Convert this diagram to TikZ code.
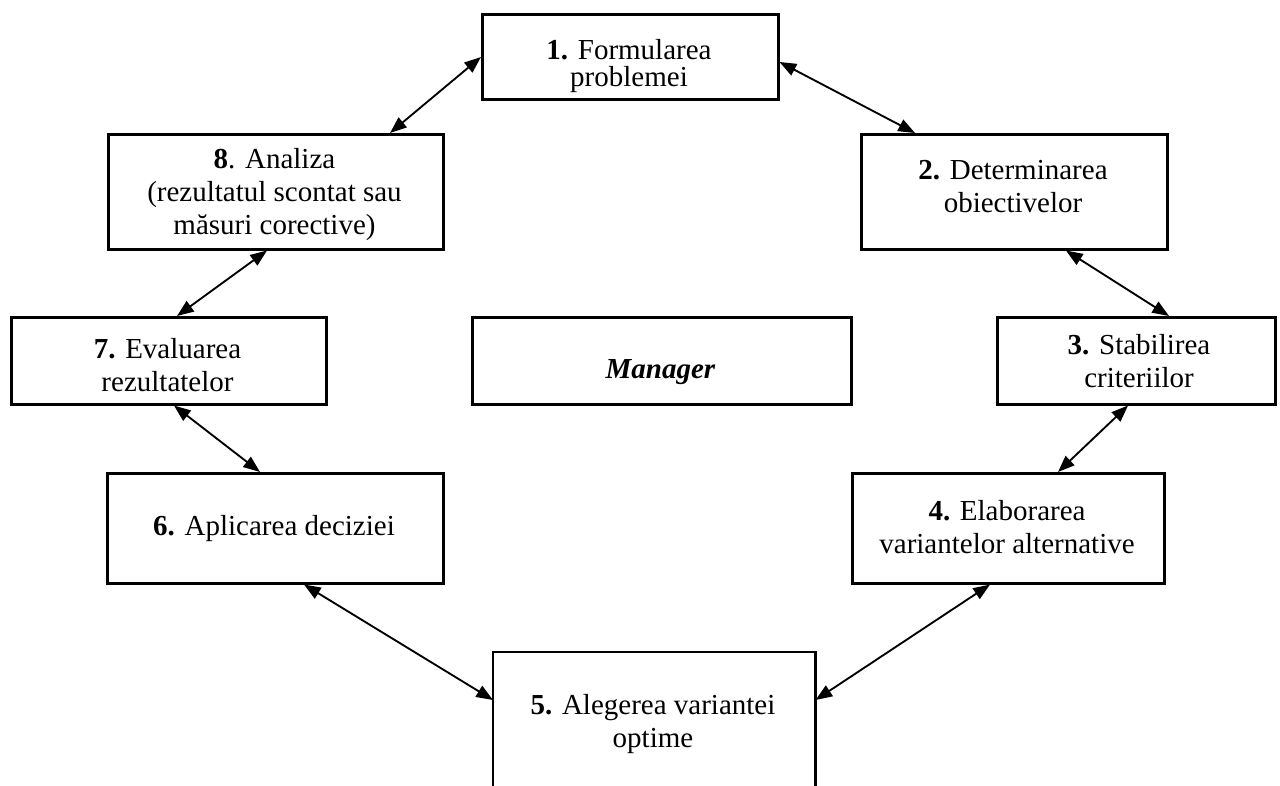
\documentclass[tikz,border=0pt]{standalone}
\usepackage{fontspec}
\setmainfont{Liberation Serif}
\usetikzlibrary{arrows.meta,calc}
\begin{document}
\begin{tikzpicture}[x=0.75pt,y=-0.75pt,
  box/.style={draw,line width=1.9pt,inner sep=0pt,anchor=north west},
  txt/.style={align=center,anchor=base,inner sep=0pt,
    font=\fontsize{21.75pt}{24.75pt}\selectfont},
  link/.style={line width=1.4pt,
    {Triangle[length=12.5pt,width=9.5pt]}-{Triangle[length=12.5pt,width=9.5pt]}}]
\useasboundingbox (0,0) rectangle (1280,785);

% boxes (pixel grid, y downwards)
\node[box,minimum width=296*0.75pt,minimum height=85*0.75pt] (b1) at (481,13) {};
\node[box,minimum width=306*0.75pt,minimum height=115*0.75pt] (b2) at (860,133) {};
\node[box,minimum width=278*0.75pt,minimum height=87*0.75pt] (b3) at (996,316) {};
\node[box,minimum width=312*0.75pt,minimum height=110*0.75pt] (b4) at (851,472) {};
\node[box,draw=none,minimum width=320*0.75pt,minimum height=140*0.75pt] (b5) at (493,652) {};
\draw[line width=1.9pt] (b5.south west) -- (b5.north west) -- (b5.north east) -- (b5.south east);
\node[box,minimum width=336*0.75pt,minimum height=110*0.75pt] (b6) at (106,472) {};
\node[box,minimum width=315*0.75pt,minimum height=87*0.75pt] (b7) at (10,316) {};
\node[box,minimum width=335*0.75pt,minimum height=115*0.75pt] (b8) at (107,133) {};
\node[box,minimum width=379*0.75pt,minimum height=87*0.75pt] (mg) at (471,316) {};

% texts (anchored at the baseline of their last line)
\node[txt,font=\fontsize{21.75pt}{20.25pt}\selectfont] (t1) at (629,86) {\textbf{1.} Formularea\\problemei};
\node[txt] (t2) at (1013,212) {\textbf{2.} Determinarea\\obiectivelor};
\node[txt] (t3) at (1139,387) {\textbf{3.} Stabilirea\\criteriilor};
\node[txt] (t4) at (1007,553) {\textbf{4.} Elaborarea\\variantelor alternative};
\node[txt] (t5) at (653,747) {\textbf{5.} Alegerea variantei\\optime};
\node[txt] (t6) at (274,535) {\textbf{6.} Aplicarea deciziei};
\node[txt] (t7) at (167.5,391) {\textbf{7.} Evaluarea\\rezultatelor};
\node[txt] (t8) at (274.5,234) {\textbf{8}. Analiza\\(rezultatul scontat sau\\măsuri corective)};
\node[txt] (tm) at (660.5,378) {\textbf{\textit{Manager}}};

% two-way connectors
\draw[link] ($(b1.north west)+(0,44)$) -- ($(b8.north west)+(283,0)$);
\draw[link] ($(b1.north east)+(0,49)$) -- ($(b2.north west)+(55,0)$);
\draw[link] ($(b2.south west)+(206,0)$) -- ($(b3.north west)+(173,0)$);
\draw[link] ($(b3.south west)+(132,0)$) -- ($(b4.north west)+(207,0)$);
\draw[link] ($(b4.south west)+(139,0)$) -- ($(b5.north east)+(0,48)$);
\draw[link] ($(b5.north west)+(0,48)$) -- ($(b6.south west)+(198,0)$);
\draw[link] ($(b6.north west)+(154,0)$) -- ($(b7.south west)+(164,0)$);
\draw[link] ($(b7.north west)+(167,0)$) -- ($(b8.south west)+(160,0)$);
\end{tikzpicture}
\end{document}
